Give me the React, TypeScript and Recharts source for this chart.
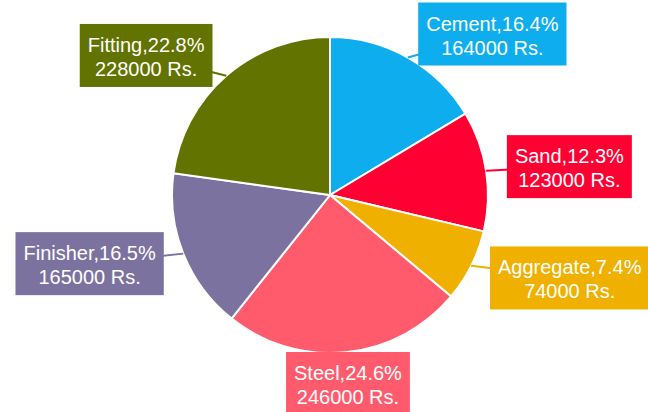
import React from "react";
import { PieChart, Pie, Cell } from "recharts";

const materials = ["Cement", "Sand", "Aggregate", "Steel", "Finisher", "Fitting"];
const costs = [164000, 123000, 74000, 246000, 165000, 228000];
const colors = ["#0EAEEE", "#FF0032", "#F0B000", "#FF5B6C", "#7C72A0", "#637300"];

const data = materials.map((name, i) => ({ name, value: costs[i] }));
const total = costs.reduce((a, b) => a + b, 0);

const FONT = '"Liberation Sans", Arial, sans-serif';
const FONT_SIZE = 20;
const RAD = Math.PI / 180;

let ctx: CanvasRenderingContext2D | null = null;
function measure(text: string) {
  if (!ctx) ctx = document.createElement("canvas").getContext("2d");
  if (!ctx) return text.length * 10;
  ctx.font = `${FONT_SIZE}px ${FONT}`;
  return ctx.measureText(text).width;
}

function BoxLabel(props: any) {
  const { cx, cy, midAngle, outerRadius, index } = props;
  const cos = Math.cos(-midAngle * RAD);
  const sin = Math.sin(-midAngle * RAD);
  const ex = cx + outerRadius * cos;
  const ey = cy + outerRadius * sin;
  const ax = cx + (outerRadius + 21) * cos;
  const ay = cy + (outerRadius + 21) * sin + 6 * sin;

  const line1 = `${materials[index]},${((costs[index] / total) * 100).toFixed(1)}%`;
  const line2 = `${costs[index]} Rs.`;
  const w = Math.max(measure(line1), measure(line2)) + 16;
  const h = 63;

  let x: number;
  let y: number;
  if (Math.abs(ax - cx) < 40) {
    x = ax - w / 2;
    y = cy + outerRadius - 1;
  } else if (ax > cx) {
    x = ax;
    y = ay - h / 2;
  } else {
    x = ax - w;
    y = ay - h / 2;
  }
  const tx = x + w / 2;
  const color = colors[index];

  return (
    <g>
      <line x1={ex} y1={ey} x2={x + w / 2} y2={y + h / 2} stroke={color} strokeWidth={2} />
      <rect x={x} y={y} width={w} height={h} fill={color} />
      <text
        x={tx}
        y={y + 28}
        textAnchor="middle"
        fill="#fff"
        fontSize={FONT_SIZE}
        fontFamily={FONT}
      >
        {line1}
      </text>
      <text
        x={tx}
        y={y + 52}
        textAnchor="middle"
        fill="#fff"
        fontSize={FONT_SIZE}
        fontFamily={FONT}
      >
        {line2}
      </text>
    </g>
  );
}

export default function App() {
  return (
    <div style={{ position: "absolute", left: 0, top: 0, background: "#fff" }}>
      <PieChart width={648} height={412} margin={{ top: 0, right: 0, bottom: 0, left: 0 }}>
        <Pie
          data={data}
          dataKey="value"
          nameKey="name"
          cx={330}
          cy={195}
          outerRadius={158}
          startAngle={90}
          endAngle={-270}
          stroke="#fff"
          strokeWidth={2}
          label={BoxLabel}
          labelLine={false}
          isAnimationActive={false}
        >
          {data.map((_, i) => (
            <Cell key={i} fill={colors[i]} />
          ))}
        </Pie>
      </PieChart>
    </div>
  );
}
